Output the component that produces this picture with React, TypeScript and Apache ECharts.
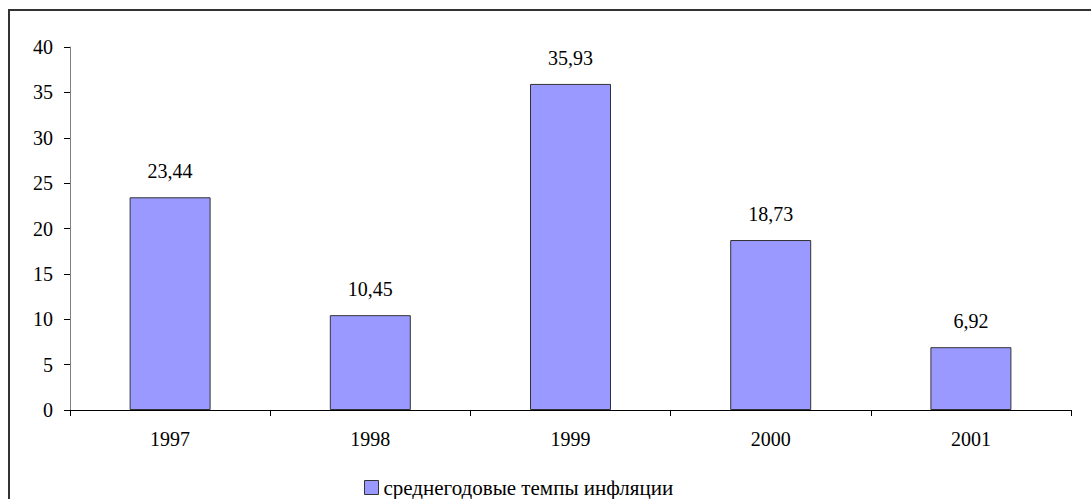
import React, { useEffect, useRef } from "react";
import * as echarts from "echarts";

const categories = ["1997", "1998", "1999", "2000", "2001"];
const values = [23.44, 10.45, 35.93, 18.73, 6.92];
const seriesName = "среднегодовые темпы инфляции";
const yMin = 0;
const yMax = 40;
const yInterval = 5;

const FONT = '"Liberation Serif", "Times New Roman", serif';

export default function App() {
  const ref = useRef<HTMLDivElement>(null);
  useEffect(() => {
    if (!ref.current) return;
    const chart = echarts.init(ref.current, undefined, { renderer: "svg" });
    chart.setOption({
      animation: false,
      backgroundColor: "#ffffff",
      textStyle: { fontFamily: FONT },
      grid: { left: 70, right: 20, top: 47, bottom: 89, containLabel: false },
      graphic: [
        {
          type: "rect",
          shape: { x: 9, y: 10, width: 1200, height: 600 },
          style: { fill: "none", stroke: "#333333", lineWidth: 2 },
          silent: true,
        },
      ],
      legend: {
        show: true,
        top: 472,
        left: 359,
        padding: 5,
        icon: "rect",
        itemWidth: 14,
        itemHeight: 14,
        itemGap: 10,
        textStyle: { fontFamily: FONT, fontSize: 21, color: "#000" },
        itemStyle: { borderColor: "#333", borderWidth: 1 },
        data: [seriesName],
      },
      xAxis: {
        type: "category",
        data: categories,
        boundaryGap: true,
        axisLine: { show: true, lineStyle: { color: "#000", width: 1 } },
        axisTick: { show: true, length: 6, inside: false, lineStyle: { color: "#000" } },
        axisLabel: { fontFamily: FONT, fontSize: 20, color: "#000", margin: 19 },
        splitLine: { show: false },
      },
      yAxis: {
        type: "value",
        min: yMin,
        max: yMax,
        interval: yInterval,
        axisLine: { show: true, lineStyle: { color: "#808080", width: 1 } },
        axisTick: { show: true, length: 6, inside: false, lineStyle: { color: "#000" } },
        axisLabel: { fontFamily: FONT, fontSize: 20, color: "#000", margin: 17 },
        splitLine: { show: false },
      },
      series: [
        {
          name: seriesName,
          type: "bar",
          data: values,
          barWidth: 81,
          itemStyle: { color: "#9999FF", borderColor: "#333333", borderWidth: 1 },
          label: {
            show: true,
            position: "top",
            distance: 16,
            fontFamily: FONT,
            fontSize: 20,
            color: "#000",
            formatter: (p: any) => String(p.value).replace(".", ","),
          },
        },
      ],
    });
    return () => chart.dispose();
  }, []);
  return (
    <div
      ref={ref}
      style={{ position: "fixed", left: 0, top: 0, width: 1091, height: 499 }}
    />
  );
}
